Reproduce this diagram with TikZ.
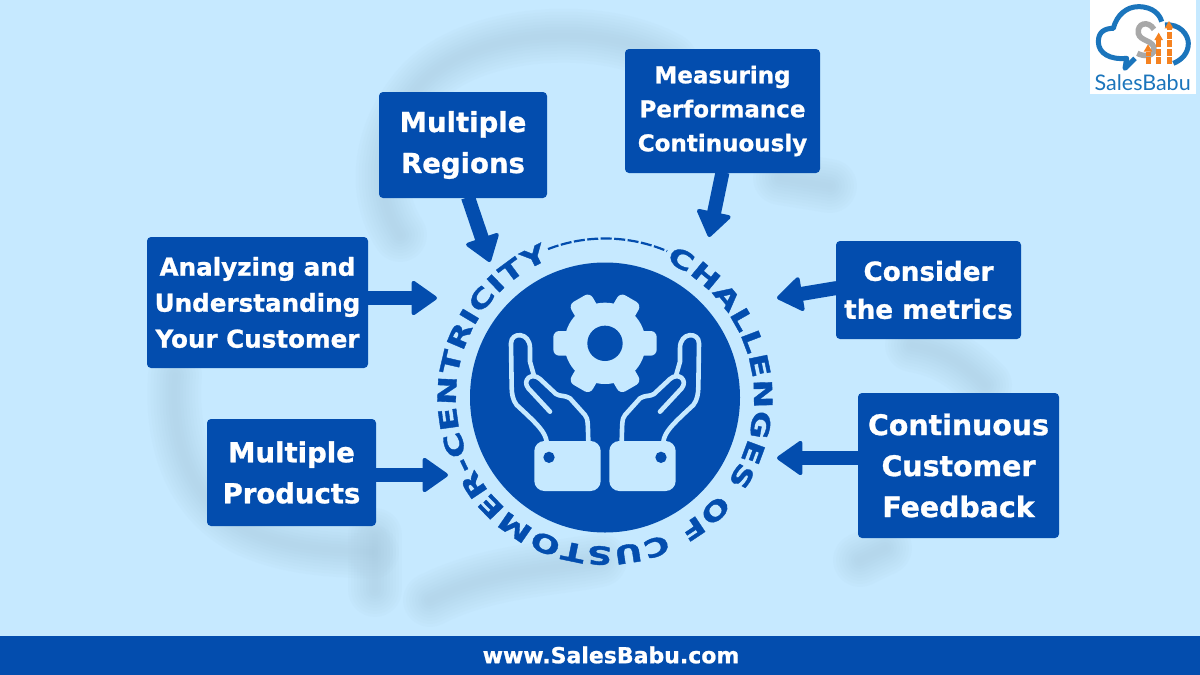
\documentclass[tikz,border=0pt]{standalone}
\usepackage{fontspec}
\usepackage{tikz}
\usetikzlibrary{arrows.meta,decorations.text}
\setmainfont{DejaVu Sans}[BoldFeatures={FakeBold=1}]
\newfontfamily\logofont{Lato}
\newfontfamily\ringfont{DejaVu Sans Bold}[FakeStretch=1.38,FakeBold=1.5]
\newcommand\ringstyle{\ringfont\fontsize{25}{25}\selectfont\color{deepblue}}
\definecolor{skyback}{HTML}{C6E9FF}
\definecolor{ghostblue}{HTML}{A9CBDF}
\definecolor{deepblue}{HTML}{034DAE}
\definecolor{logoblue}{HTML}{1B75BC}
\definecolor{logogray}{HTML}{A8A8A8}
\definecolor{logoorange}{HTML}{F58220}
\tikzset{
  topicbox/.style={fill=deepblue,text=white,rounded corners=4pt,align=center,inner sep=0pt},
  pointer/.style={line width=14pt,deepblue,-{Triangle[round,width=37pt,length=27pt,line width=4pt]},line join=round},
  ghost/.style={ghostblue,line cap=round,opacity=0.07},
  iconline/.style={skyback,line width=4.6pt,line cap=round,line join=round}
}
\begin{document}
\begin{tikzpicture}[x=1pt,y=-1pt]
  \useasboundingbox (0,0) rectangle (1200,675);
  \fill[skyback] (0,0) rectangle (1200,675);

  % blurred backdrop
  \foreach \w in {6,12,...,54} {
    \draw[ghost,line width=\w pt] (670,60) .. controls (600,20) and (470,30) .. (420,85) .. controls (380,130) and (370,190) .. (400,235);
    \draw[ghost,line width=\w pt] (175,375) .. controls (170,440) and (190,510) .. (260,535) .. controls (300,550) and (340,550) .. (372,552);
    \draw[ghost,line width=\w pt] (375,535) -- (375,590);
    \draw[ghost,line width=\w pt] (430,600) .. controls (490,570) and (550,570) .. (600,560);
    \draw[ghost,line width=\w pt] (912,345) .. controls (940,350) and (960,360) .. (985,385);
    \draw[ghost,line width=\w pt] (780,178) -- (830,186);
    \draw[ghost,line width=\w pt] (860,560) -- (885,548);
  }

  % boxes
  \node[topicbox,minimum width=168pt,minimum height=106pt,font=\bfseries\fontsize{27.5}{41}\selectfont] (regions) at (463,145) {Multiple\\Regions};
  \node[topicbox,minimum width=195pt,minimum height=124pt,font=\bfseries\fontsize{23}{34}\selectfont] (measuring) at (722.5,111) {Measuring\\Performance\\Continuously};
  \node[topicbox,minimum width=221pt,minimum height=131pt,font=\bfseries\fontsize{24.6}{36}\selectfont] (analyzing) at (257.5,302.5) {Analyzing and\\Understanding\\Your Customer};
  \node[topicbox,minimum width=185pt,minimum height=98pt,font=\bfseries\fontsize{26.2}{38}\selectfont] (consider) at (928.5,290) {Consider\\the metrics};
  \node[topicbox,minimum width=169pt,minimum height=107pt,font=\bfseries\fontsize{27.5}{41}\selectfont] (products) at (291.5,472.5) {Multiple\\Products};
  \node[topicbox,minimum width=201pt,minimum height=145pt,font=\bfseries\fontsize{28.4}{41}\selectfont] (feedback) at (958.5,465.5) {Continuous\\Customer\\Feedback};

  % arrows
  \coordinate (regionstip) at (490,262);
  \coordinate (measuringtip) at (709,237);
  \coordinate (analyzingtip) at (437,298);
  \coordinate (considertip) at (777,298);
  \coordinate (productstip) at (448,475);
  \coordinate (feedbacktip) at (777,458);
  \draw[pointer] (regions.south) ++(5,-1) -- (regionstip);
  \draw[pointer] (measuring.south) ++(0,-1) -- (measuringtip);
  \draw[pointer] (analyzing.east |- analyzingtip) -- (analyzingtip);
  \draw[pointer] (consider.west) ++(1,-2) -- (considertip);
  \draw[pointer] (products.east |- productstip) -- (productstip);
  \draw[pointer] (feedback.west |- feedbacktip) -- (feedbacktip);

  % disc and ring of text
  \node[circle,fill=deepblue,minimum size=270pt,inner sep=0pt] (disc) at (605,397.5) {};
  \path[decorate,decoration={text along path,text align=fit to path,
    text={|\ringstyle|CHALLENGES OF CUSTOMER-CENTRICITY}}]
    (605,397.5) ++(-66:149) arc[start angle=-66,end angle=248,radius=149];
  \draw[deepblue,line width=2.2pt,dash pattern=on 11pt off 2.5pt] (605,397.5) ++(-111:159) arc[start angle=-111,end angle=-67,radius=159];

  % gear and hands
  \begin{scope}[shift={(500,280)},scale=1/3]
    \fill[skyback] (315,190) circle (122);
    \foreach \a in {30,90,...,330} {
      \fill[skyback,rounded corners=6pt,shift={(315,190)},rotate=\a] (-37,90) rectangle (37,155);
    }
    \fill[deepblue] (315,190) circle (53);
    \foreach \m/\o in {1/0,-1/630} {
      \begin{scope}[shift={(\o,0)},xscale=\m]
        \draw[iconline] (140,485) .. controls (135,455) and (115,435) .. (50,375)
          .. controls (38,360) and (35,340) .. (35,320) -- (33,190)
          .. controls (33,155) and (90,155) .. (90,205) -- (90,245) -- (102,287);
        \draw[iconline] (150,395) -- (85,325) .. controls (65,300) and (95,275) .. (120,297)
          -- (168,342) .. controls (180,350) and (195,345) .. (210,355)
          -- (255,405) .. controls (265,418) and (263,430) .. (265,485);
        \fill[skyback,rounded corners=10pt] (103,483) rectangle (302,633);
        \fill[deepblue] (147,532) circle (17);
      \end{scope}
    }
  \end{scope}

  % footer band
  \fill[deepblue] (0,636) rectangle (1200,675);
  \node[text=white,font=\bfseries\fontsize{22}{24}\selectfont] (website) at (611,655) {www.SalesBabu.com};

  % logo
  \fill[white] (1090,0) rectangle (1196,94);
  \begin{scope}[shift={(1080,0)},scale=1/3]
    \draw[logoblue,line width=5pt,line join=round] (165,175) -- (135,205) -- (140,175)
      .. controls (90,180) and (55,160) .. (55,125)
      .. controls (55,95) and (75,85) .. (100,85)
      .. controls (110,45) and (140,20) .. (175,20)
      .. controls (220,20) and (240,45) .. (245,65);
    \draw[logoblue,line width=5pt,line join=round] (255,75)
      .. controls (300,70) and (325,105) .. (325,130)
      .. controls (325,160) and (305,180) .. (280,190);
    \draw[logogray,line width=5.5pt] (222,88) .. controls (205,60) and (170,70) .. (175,100)
      .. controls (180,125) and (225,120) .. (222,150) .. controls (220,170) and (190,170) .. (172,160);
    \foreach \x/\y in {204/155,236/120,267/85} {
      \draw[logoorange,line width=5pt,dash pattern=on 7pt off 1.5pt] (\x,192) -- (\x,\y);
      \fill[logoorange] (\x-13,\y) -- (\x,\y-22) -- (\x+13,\y) -- cycle;
    }
    \node[logoblue,font=\logofont\fontsize{21.5}{22}\selectfont] (brand) at (188,249) {SalesBabu};
  \end{scope}
\end{tikzpicture}
\end{document}
